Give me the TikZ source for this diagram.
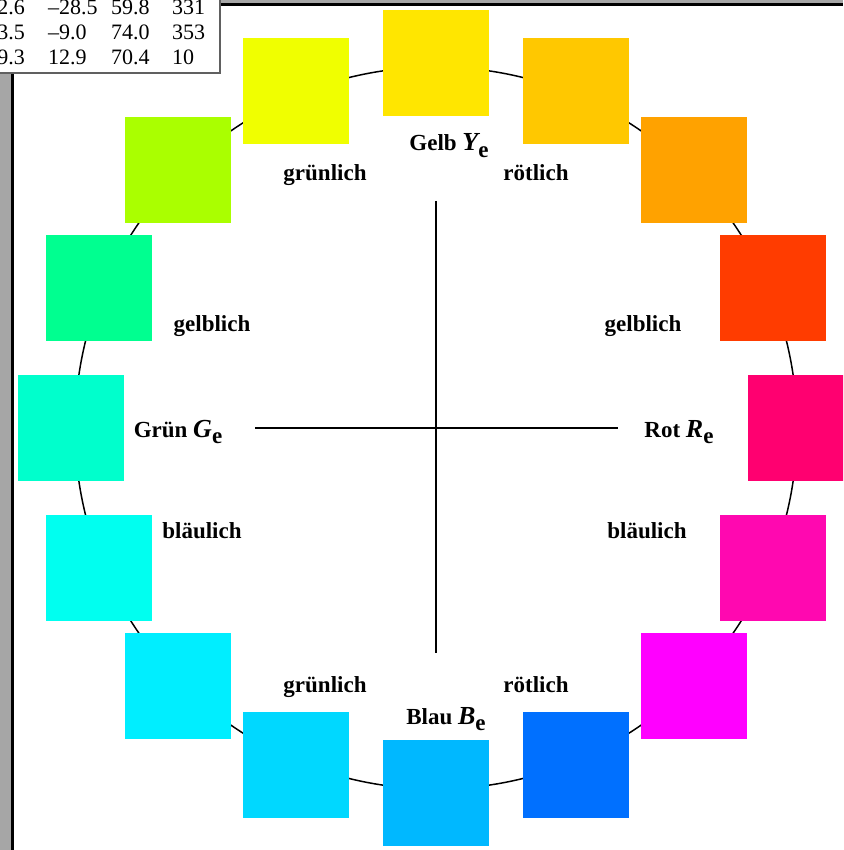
\documentclass[tikz,border=0pt]{standalone}
\usepackage{fontspec}
\setmainfont{Liberation Serif}
\definecolor{framegray}{HTML}{A6A6A6}
\definecolor{tabgray}{HTML}{606060}
\definecolor{cA}{HTML}{FFE600}
\definecolor{cB}{HTML}{FFC800}
\definecolor{cC}{HTML}{FFA200}
\definecolor{cD}{HTML}{FF3C00}
\definecolor{cE}{HTML}{FF0070}
\definecolor{cF}{HTML}{FF08B0}
\definecolor{cG}{HTML}{FF00FF}
\definecolor{cH}{HTML}{0070FF}
\definecolor{cI}{HTML}{00B8FF}
\definecolor{cJ}{HTML}{00D8FF}
\definecolor{cK}{HTML}{00EEFF}
\definecolor{cL}{HTML}{00FFF0}
\definecolor{cM}{HTML}{00FFCC}
\definecolor{cN}{HTML}{00FF90}
\definecolor{cO}{HTML}{AAFF00}
\definecolor{cP}{HTML}{F0FF00}
\newcommand\colsub[2]{{\fontsize{26}{28}\selectfont\itshape #1}\raisebox{-0.27em}{#2}}
\begin{document}
\begin{tikzpicture}[x=1pt,y=-1pt,
  sq/.style={minimum size=106pt, inner sep=0pt, outer sep=0pt, draw=none},
  lbl/.style={font=\fontsize{23}{27}\selectfont\bfseries, inner sep=0pt, anchor=base},
  tab/.style={font=\fontsize{22}{26}\selectfont, inner sep=0pt},
  axisline/.style={line width=1.8pt},
  ring/.style={line width=1.5pt}]
\useasboundingbox (0,0) rectangle (843,850);
\clip (0,0) rectangle (843,850);
% frame
\fill[framegray] (0,0) rectangle (12,850);
\fill[framegray] (0,0) rectangle (843,4);
\draw[line width=2.6pt] (12.5,850) -- (12.5,4.5) -- (843,4.5);
% table
\filldraw[fill=white, draw=tabgray, line width=1.5pt] (-10,-10) rectangle (220,73);
\node[tab, anchor=base east] (t11) at (25,15) {2.6};
\node[tab, anchor=base west] (t12) at (48,15) {–28.5};
\node[tab, anchor=base west] (t13) at (111,15) {59.8};
\node[tab, anchor=base west] (t14) at (172,15) {331};
\node[tab, anchor=base east] (t21) at (25,40) {3.5};
\node[tab, anchor=base west] (t22) at (48,40) {–9.0};
\node[tab, anchor=base west] (t23) at (111,40) {74.0};
\node[tab, anchor=base west] (t24) at (172,40) {353};
\node[tab, anchor=base east] (t31) at (25,65) {9.3};
\node[tab, anchor=base west] (t32) at (48,65) {12.9};
\node[tab, anchor=base west] (t33) at (111,65) {70.4};
\node[tab, anchor=base west] (t34) at (172,65) {10};
% circle
\coordinate (c) at (436,428);
\draw[ring] (c) circle [radius=361pt];
% squares
\foreach \a/\col [count=\i] in {0/cA,22.5/cB,45/cC,67.5/cD,90/cE,112.5/cF,135/cG,157.5/cH,180/cI,202.5/cJ,225/cK,247.5/cL,270/cM,292.5/cN,315/cO,337.5/cP}
  \node[sq, fill=\col] (s\i) at ({436+365*sin(\a)},{428-365*cos(\a)}) {};
% axes
\coordinate (vt) at (436,201);
\coordinate (vb) at (436,653);
\coordinate (hl) at (255,428);
\coordinate (hr) at (618,428);
\draw[axisline] (vt) -- (vb);
\draw[axisline] (hl) -- (hr);
% labels
\node[lbl] (gelb) at (449,151) {Gelb \colsub{Y}{e}};
\node[lbl] (gr1) at (325,181) {grünlich};
\node[lbl] (ro1) at (536,181) {rötlich};
\node[lbl] (ge1) at (212,331) {gelblich};
\node[lbl] (ge2) at (643,331) {gelblich};
\node[lbl] (gruen) at (178,437) {Grün \colsub{G}{e}};
\node[lbl] (rot) at (679,437) {Rot \colsub{R}{e}};
\node[lbl] (bl1) at (202,538) {bläulich};
\node[lbl] (bl2) at (647,538) {bläulich};
\node[lbl] (gr2) at (325,692) {grünlich};
\node[lbl] (ro2) at (536,692) {rötlich};
\node[lbl] (blau) at (446,724) {Blau \colsub{B}{e}};
\end{tikzpicture}
\end{document}
